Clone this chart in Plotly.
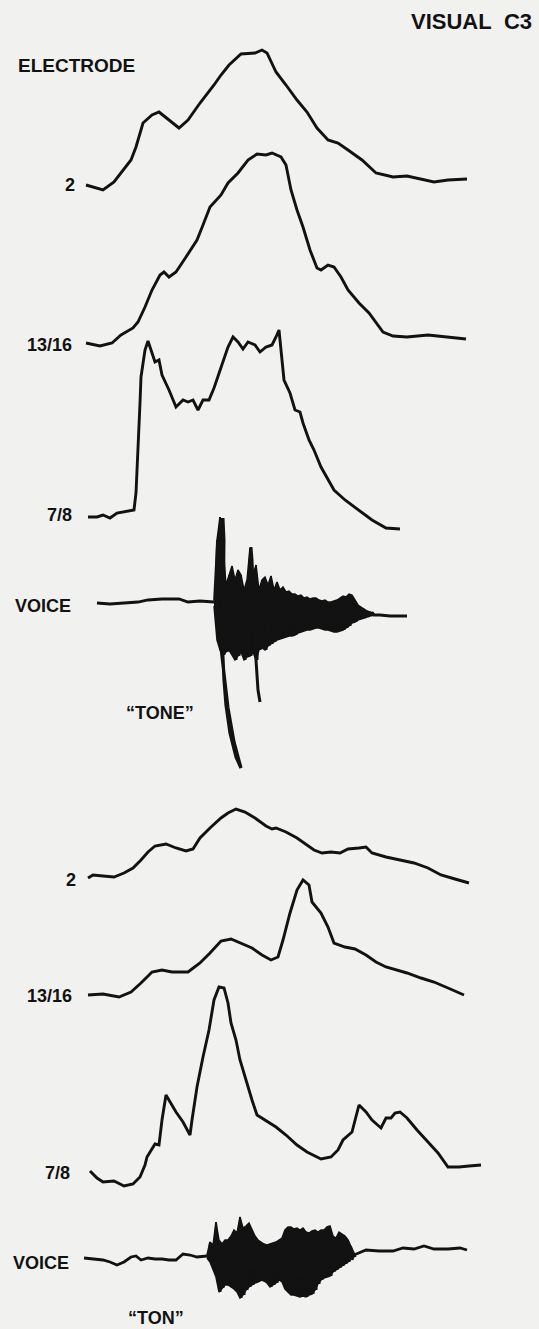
import plotly.graph_objects as go

# ---------------- data (page pixel coordinates) ----------------
# Electrode 2 ("TONE")
e2a_x = [86,103,114,131,136,143,152,159,169,179,188,200,214,221,229,241,255,262,267,276,286,297,307,317,328,338,348,362,376,393,407,417,434,448,467]
e2a_y = [185,190,182,160,147,123,115,112,120,128,120,103,85,75,65,54,53,50,53,72,85,100,112,128,140,143,150,160,173,177,176,178,182,180,179]

# Electrode 13/16 ("TONE")
e13a_x = [86,100,112,121,133,138,145,152,160,164,169,176,186,197,203,210,221,228,238,248,257,266,272,281,286,291,297,303,310,317,321,328,334,341,348,359,369,376,383,393,407,428,448,466]
e13a_y = [343,346,343,335,328,322,307,290,275,272,277,272,257,240,225,207,195,183,173,160,154,155,153,157,165,190,210,227,250,268,270,265,267,277,290,303,313,323,332,336,337,335,337,339]

# Electrode 7/8 ("TONE")
e78a_x = [88,97,103,110,117,124,134,136,138,140,141,145,148,152,155,159,162,169,176,183,188,193,198,203,209,214,221,228,233,238,243,248,255,260,266,272,276,279,281,284,290,295,300,303,309,314,321,328,334,345,359,372,386,400]
e78a_y = [517,517,515,518,513,512,510,493,453,403,377,350,341,353,362,360,375,390,407,400,402,400,410,400,400,388,367,347,337,342,349,342,345,352,347,345,337,330,350,380,393,410,412,423,440,450,467,480,490,500,510,520,528,529]

# Voice ("TONE"): baseline, burst envelope, tail, spikes
va_base_x = [97,110,124,138,148,162,179,188,200,214]
va_base_y = [603,604,603,602,600,599,599,602,601,602]
va_env_x = [214,217,220,223,226,229,232,235,238,241,244,247,250,253,256,259,262,265,268,271,274,277,280,283,286,289,292,295,298,301,304,307,310,313,316,319,322,325,328,331,334,337,340,343,346,349,352,355,358,361,364,367,370,373]
va_env_up = [598,540,517,545,585,575,566,580,570,575,590,580,548,575,565,590,580,577,585,576,590,582,590,587,592,591,594,594,596,595,598,597,599,598,598,600,601,600,602,602,601,600,598,596,597,594,595,600,605,607,609,611,612,613]
va_env_lo = [606,640,650,655,652,650,655,660,656,652,660,657,656,652,660,650,648,650,646,644,642,640,639,638,637,636,636,635,633,632,631,630,630,629,628,628,629,630,630,631,632,632,631,630,628,626,623,622,620,619,618,617,616,615]
va_tail_x = [373,380,390,400,407]
va_tail_y = [615,615,616,616,616]
va_spike1_x = [219,220,221,222,223,223,222]
va_spike1_y = [600,560,525,518,540,600,645]
va_tailcurve_x = [221,222,224,226,230,236,241,234,228,223,219,217]
va_tailcurve_y = [615,640,680,705,733,757,768,742,708,665,630,600]
va_spike2_x = [248,250,251,252,254,256,258,260]
va_spike2_y = [600,560,547,560,620,660,690,702]

# Electrode 2 ("TON")
e2b_x = [88,93,103,114,124,133,141,148,155,166,176,186,193,200,210,221,228,236,245,255,266,272,276,286,297,307,314,322,331,340,348,359,366,372,386,400,414,428,441,455,469]
e2b_y = [878,875,876,877,873,868,860,852,846,844,848,851,849,838,828,818,813,809,812,818,826,829,828,832,838,845,850,853,852,853,849,848,847,853,857,860,863,868,875,879,883]

# Electrode 13/16 ("TON")
e13b_x = [88,103,119,131,141,152,162,172,188,200,210,221,231,241,252,262,271,278,283,290,297,303,309,312,321,328,334,345,355,366,376,386,397,407,421,434,448,464]
e13b_y = [995,994,997,992,983,972,970,972,972,963,953,941,939,943,948,955,960,957,940,913,890,880,885,902,913,927,943,947,949,955,962,967,970,973,978,982,988,995]

# Electrode 7/8 ("TON")
e78b_x = [90,97,103,114,124,133,140,145,147,152,155,159,162,166,169,176,183,190,192,197,203,209,214,219,224,228,231,236,240,245,252,257,262,269,276,286,297,307,321,331,338,343,352,359,366,372,381,386,391,395,400,407,417,428,438,448,459,469,481]
e78b_y = [1171,1178,1182,1181,1186,1184,1177,1165,1157,1148,1144,1145,1120,1095,1100,1112,1122,1135,1120,1087,1057,1030,1000,987,988,1003,1023,1040,1060,1077,1100,1115,1118,1123,1127,1135,1145,1152,1159,1157,1150,1140,1132,1105,1112,1120,1128,1118,1118,1113,1112,1118,1130,1142,1153,1167,1167,1166,1165]

# Voice ("TON")
vb_base_x = [84,93,103,110,117,124,131,136,141,148,155,162,169,176,183,190,197,207]
vb_base_y = [1258,1259,1260,1262,1265,1262,1257,1256,1260,1258,1259,1259,1260,1260,1254,1255,1257,1256]
vb_env_x = [207,210,213,216,219,222,225,228,231,234,237,240,243,246,249,252,255,258,261,264,267,270,273,276,279,282,285,288,291,294,297,300,303,306,309,312,315,318,321,324,327,330,333,336,339,342,345,348,351,354]
vb_env_up = [1255,1242,1245,1222,1240,1244,1240,1240,1236,1230,1233,1217,1228,1226,1223,1230,1236,1240,1242,1244,1245,1244,1243,1242,1240,1238,1230,1227,1227,1229,1228,1230,1228,1232,1233,1231,1230,1232,1230,1230,1227,1226,1236,1238,1232,1234,1236,1240,1246,1253]
vb_env_lo = [1258,1262,1270,1277,1292,1288,1285,1285,1287,1289,1292,1298,1295,1290,1287,1285,1283,1282,1280,1281,1283,1287,1285,1283,1280,1282,1289,1292,1295,1295,1296,1297,1296,1297,1295,1294,1290,1284,1280,1278,1277,1276,1272,1270,1268,1266,1264,1262,1260,1257]
vb_tail_x = [354,366,379,393,403,414,424,434,448,460,467]
vb_tail_y = [1255,1250,1251,1251,1248,1249,1246,1249,1249,1248,1250]

# Labels
labels = ["2", "13/16", "7/8", "VOICE", "2", "13/16", "7/8", "VOICE"]
label_x = [77, 74, 74, 73, 78, 74, 72, 71]
label_y = [185, 345, 515, 606, 880, 996, 1173, 1263]
words = ["\u201cTONE\u201d", "\u201cTON\u201d"]
word_x = [124, 126]
word_y = [713, 1318]

INK = "#121212"
PAPER = "#f1f1ef"
FONT = "Liberation Sans"

fig = go.Figure()

def add_line(xs, ys, w=2.9):
    fig.add_trace(go.Scatter(x=xs, y=ys, mode="lines",
                             line=dict(color=INK, width=w, shape="linear"),
                             hoverinfo="skip", showlegend=False))

def add_blob(xs, ups, los):
    px = list(xs) + list(xs)[::-1]
    py = list(ups) + list(los)[::-1]
    fig.add_trace(go.Scatter(x=px, y=py, mode="lines", fill="toself",
                             fillcolor=INK, line=dict(color=INK, width=1.5),
                             hoverinfo="skip", showlegend=False))
    zx, zy = [], []
    for x, u, l in zip(xs, ups, los):
        zx += [x, x + 1.5]
        zy += [u, l]
    add_line(zx, zy, 2.0)

for xs, ys in [(e2a_x, e2a_y), (e13a_x, e13a_y), (e78a_x, e78a_y),
               (e2b_x, e2b_y), (e13b_x, e13b_y), (e78b_x, e78b_y)]:
    add_line(xs, ys)

# voice TONE
add_line(va_base_x, va_base_y, 2.8)
add_blob(va_env_x, va_env_up, va_env_lo)
add_line(va_tail_x, va_tail_y, 2.8)
add_line(va_spike1_x, va_spike1_y, 5.0)
add_line(va_tailcurve_x, va_tailcurve_y, 3.2)
add_line(va_spike2_x, va_spike2_y, 3.0)

# voice TON
add_line(vb_base_x, vb_base_y, 2.8)
add_blob(vb_env_x, vb_env_up, vb_env_lo)
add_line(vb_tail_x, vb_tail_y, 2.8)

ann = []
ann.append(dict(x=534, y=21, text="<b>VISUAL\u00a0\u00a0C3</b>", xanchor="right", yanchor="middle",
                font=dict(family=FONT, size=22, color=INK)))
ann.append(dict(x=16, y=65, text="<b>ELECTRODE</b>", xanchor="left", yanchor="middle",
                font=dict(family=FONT, size=19, color=INK)))
for t, x, y in zip(labels, label_x, label_y):
    ann.append(dict(x=x, y=y, text="<b>" + t + "</b>", xanchor="right", yanchor="middle",
                    font=dict(family=FONT, size=18, color=INK)))
for t, x, y in zip(words, word_x, word_y):
    ann.append(dict(x=x, y=y, text="<b>" + t + "</b>", xanchor="left", yanchor="middle",
                    font=dict(family=FONT, size=18, color=INK)))
for a in ann:
    a.update(xref="x", yref="y", showarrow=False)

fig.update_layout(
    width=539, height=1329, autosize=False,
    margin=dict(l=0, r=0, t=0, b=0, pad=0),
    paper_bgcolor=PAPER, plot_bgcolor=PAPER,
    xaxis=dict(range=[0, 539], visible=False, fixedrange=True),
    yaxis=dict(range=[1329, 0], visible=False, fixedrange=True),
    annotations=ann, showlegend=False,
)

fig.write_html("out.html", config={"displayModeBar": False},
               post_script="document.body.style.margin='0';document.body.style.overflow='hidden';")
